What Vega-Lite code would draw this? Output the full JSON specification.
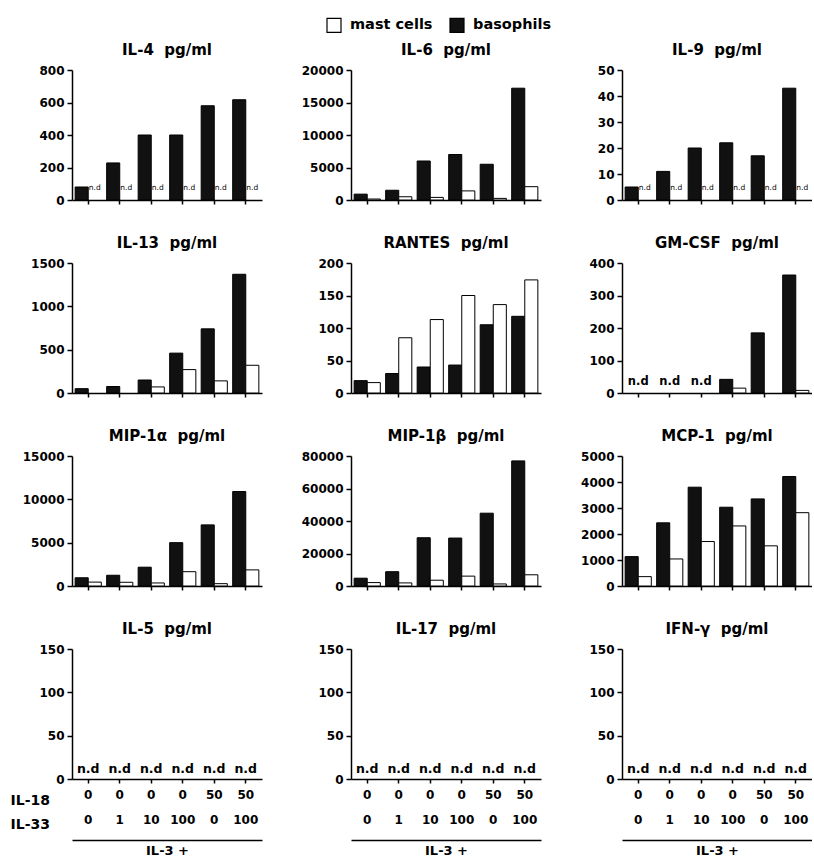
{
 "$schema": "https://vega.github.io/schema/vega-lite/v6.json",
 "padding": {"left": 10, "top": 17, "right": 0, "bottom": 0},
 "data": {"values": [
  {"c":"IL-4","g":"0|0","cell":"basophils","v":80},
  {"c":"IL-4","g":"0|1","cell":"basophils","v":228},
  {"c":"IL-4","g":"0|10","cell":"basophils","v":400},
  {"c":"IL-4","g":"0|100","cell":"basophils","v":400},
  {"c":"IL-4","g":"50|0","cell":"basophils","v":580},
  {"c":"IL-4","g":"50|100","cell":"basophils","v":617},
  {"c":"IL-4","g":"0|0","cell":"mast cells","nd":"m"},
  {"c":"IL-4","g":"0|1","cell":"mast cells","nd":"m"},
  {"c":"IL-4","g":"0|10","cell":"mast cells","nd":"m"},
  {"c":"IL-4","g":"0|100","cell":"mast cells","nd":"m"},
  {"c":"IL-4","g":"50|0","cell":"mast cells","nd":"m"},
  {"c":"IL-4","g":"50|100","cell":"mast cells","nd":"m"},
  {"c":"IL-6","g":"0|0","cell":"basophils","v":900},
  {"c":"IL-6","g":"0|1","cell":"basophils","v":1500},
  {"c":"IL-6","g":"0|10","cell":"basophils","v":6000},
  {"c":"IL-6","g":"0|100","cell":"basophils","v":7000},
  {"c":"IL-6","g":"50|0","cell":"basophils","v":5500},
  {"c":"IL-6","g":"50|100","cell":"basophils","v":17200},
  {"c":"IL-6","g":"0|0","cell":"mast cells","v":150},
  {"c":"IL-6","g":"0|1","cell":"mast cells","v":500},
  {"c":"IL-6","g":"0|10","cell":"mast cells","v":400},
  {"c":"IL-6","g":"0|100","cell":"mast cells","v":1400},
  {"c":"IL-6","g":"50|0","cell":"mast cells","v":250},
  {"c":"IL-6","g":"50|100","cell":"mast cells","v":2050},
  {"c":"IL-9","g":"0|0","cell":"basophils","v":5},
  {"c":"IL-9","g":"0|1","cell":"basophils","v":11},
  {"c":"IL-9","g":"0|10","cell":"basophils","v":20},
  {"c":"IL-9","g":"0|100","cell":"basophils","v":22},
  {"c":"IL-9","g":"50|0","cell":"basophils","v":17},
  {"c":"IL-9","g":"50|100","cell":"basophils","v":43},
  {"c":"IL-9","g":"0|0","cell":"mast cells","nd":"m"},
  {"c":"IL-9","g":"0|1","cell":"mast cells","nd":"m"},
  {"c":"IL-9","g":"0|10","cell":"mast cells","nd":"m"},
  {"c":"IL-9","g":"0|100","cell":"mast cells","nd":"m"},
  {"c":"IL-9","g":"50|0","cell":"mast cells","nd":"m"},
  {"c":"IL-9","g":"50|100","cell":"mast cells","nd":"m"},
  {"c":"IL-13","g":"0|0","cell":"basophils","v":50},
  {"c":"IL-13","g":"0|1","cell":"basophils","v":75},
  {"c":"IL-13","g":"0|10","cell":"basophils","v":150},
  {"c":"IL-13","g":"0|100","cell":"basophils","v":460},
  {"c":"IL-13","g":"50|0","cell":"basophils","v":740},
  {"c":"IL-13","g":"50|100","cell":"basophils","v":1370},
  {"c":"IL-13","g":"0|10","cell":"mast cells","v":70},
  {"c":"IL-13","g":"0|100","cell":"mast cells","v":270},
  {"c":"IL-13","g":"50|0","cell":"mast cells","v":140},
  {"c":"IL-13","g":"50|100","cell":"mast cells","v":320},
  {"c":"RANTES","g":"0|0","cell":"basophils","v":19},
  {"c":"RANTES","g":"0|1","cell":"basophils","v":30},
  {"c":"RANTES","g":"0|10","cell":"basophils","v":40},
  {"c":"RANTES","g":"0|100","cell":"basophils","v":43},
  {"c":"RANTES","g":"50|0","cell":"basophils","v":105},
  {"c":"RANTES","g":"50|100","cell":"basophils","v":118},
  {"c":"RANTES","g":"0|0","cell":"mast cells","v":16},
  {"c":"RANTES","g":"0|1","cell":"mast cells","v":85},
  {"c":"RANTES","g":"0|10","cell":"mast cells","v":113},
  {"c":"RANTES","g":"0|100","cell":"mast cells","v":150},
  {"c":"RANTES","g":"50|0","cell":"mast cells","v":136},
  {"c":"RANTES","g":"50|100","cell":"mast cells","v":174},
  {"c":"GM-CSF","g":"0|0","nd":"c"},
  {"c":"GM-CSF","g":"0|1","nd":"c"},
  {"c":"GM-CSF","g":"0|10","nd":"c"},
  {"c":"GM-CSF","g":"0|100","cell":"basophils","v":42},
  {"c":"GM-CSF","g":"50|0","cell":"basophils","v":185},
  {"c":"GM-CSF","g":"50|100","cell":"basophils","v":363},
  {"c":"GM-CSF","g":"0|100","cell":"mast cells","v":15},
  {"c":"GM-CSF","g":"50|100","cell":"mast cells","v":8},
  {"c":"MIP-1α","g":"0|0","cell":"basophils","v":950},
  {"c":"MIP-1α","g":"0|1","cell":"basophils","v":1240},
  {"c":"MIP-1α","g":"0|10","cell":"basophils","v":2170},
  {"c":"MIP-1α","g":"0|100","cell":"basophils","v":5000},
  {"c":"MIP-1α","g":"50|0","cell":"basophils","v":7050},
  {"c":"MIP-1α","g":"50|100","cell":"basophils","v":10900},
  {"c":"MIP-1α","g":"0|0","cell":"mast cells","v":450},
  {"c":"MIP-1α","g":"0|1","cell":"mast cells","v":430},
  {"c":"MIP-1α","g":"0|10","cell":"mast cells","v":350},
  {"c":"MIP-1α","g":"0|100","cell":"mast cells","v":1650},
  {"c":"MIP-1α","g":"50|0","cell":"mast cells","v":270},
  {"c":"MIP-1α","g":"50|100","cell":"mast cells","v":1860},
  {"c":"MIP-1β","g":"0|0","cell":"basophils","v":4800},
  {"c":"MIP-1β","g":"0|1","cell":"basophils","v":8800},
  {"c":"MIP-1β","g":"0|10","cell":"basophils","v":29700},
  {"c":"MIP-1β","g":"0|100","cell":"basophils","v":29500},
  {"c":"MIP-1β","g":"50|0","cell":"basophils","v":44800},
  {"c":"MIP-1β","g":"50|100","cell":"basophils","v":77000},
  {"c":"MIP-1β","g":"0|0","cell":"mast cells","v":2100},
  {"c":"MIP-1β","g":"0|1","cell":"mast cells","v":1900},
  {"c":"MIP-1β","g":"0|10","cell":"mast cells","v":3560},
  {"c":"MIP-1β","g":"0|100","cell":"mast cells","v":6070},
  {"c":"MIP-1β","g":"50|0","cell":"mast cells","v":1260},
  {"c":"MIP-1β","g":"50|100","cell":"mast cells","v":6900},
  {"c":"MCP-1","g":"0|0","cell":"basophils","v":1130},
  {"c":"MCP-1","g":"0|1","cell":"basophils","v":2430},
  {"c":"MCP-1","g":"0|10","cell":"basophils","v":3800},
  {"c":"MCP-1","g":"0|100","cell":"basophils","v":3030},
  {"c":"MCP-1","g":"50|0","cell":"basophils","v":3350},
  {"c":"MCP-1","g":"50|100","cell":"basophils","v":4210},
  {"c":"MCP-1","g":"0|0","cell":"mast cells","v":360},
  {"c":"MCP-1","g":"0|1","cell":"mast cells","v":1040},
  {"c":"MCP-1","g":"0|10","cell":"mast cells","v":1710},
  {"c":"MCP-1","g":"0|100","cell":"mast cells","v":2310},
  {"c":"MCP-1","g":"50|0","cell":"mast cells","v":1545},
  {"c":"MCP-1","g":"50|100","cell":"mast cells","v":2820},
  {"c":"IL-5","g":"0|0","nd":"c"},
  {"c":"IL-5","g":"0|1","nd":"c"},
  {"c":"IL-5","g":"0|10","nd":"c"},
  {"c":"IL-5","g":"0|100","nd":"c"},
  {"c":"IL-5","g":"50|0","nd":"c"},
  {"c":"IL-5","g":"50|100","nd":"c"},
  {"c":"IL-17","g":"0|0","nd":"c"},
  {"c":"IL-17","g":"0|1","nd":"c"},
  {"c":"IL-17","g":"0|10","nd":"c"},
  {"c":"IL-17","g":"0|100","nd":"c"},
  {"c":"IL-17","g":"50|0","nd":"c"},
  {"c":"IL-17","g":"50|100","nd":"c"},
  {"c":"IFN-γ","g":"0|0","nd":"c"},
  {"c":"IFN-γ","g":"0|1","nd":"c"},
  {"c":"IFN-γ","g":"0|10","nd":"c"},
  {"c":"IFN-γ","g":"0|100","nd":"c"},
  {"c":"IFN-γ","g":"50|0","nd":"c"},
  {"c":"IFN-γ","g":"50|100","nd":"c"}
 ]},
 "columns": 3,
 "spacing": {"row": 30, "column": 39},
 "resolve": {"scale": {"x": "independent", "y": "independent", "xOffset": "independent", "color": "shared"}, "legend": {"color": "shared"}},
 "concat": [
  {"title": "IL-4\u00a0 pg/ml", "width": 190, "height": 130,
   "transform": [{"filter": "datum.c === 'IL-4'"}],
   "encoding": {"x": {"field":"g","type":"nominal","sort":null,"scale":{"domain":["0|0","0|1","0|10","0|100","50|0","50|100"],"paddingInner":0.17,"paddingOuter":0.1},"axis":{"labels":false,"title":null}}},
   "layer": [
    {"transform": [{"filter": "isValid(datum.v)"}], "mark": {"type":"bar","stroke":"black","strokeWidth":1},
     "encoding": {"xOffset": {"field":"cell","type":"nominal","scale":{"domain":["basophils","mast cells"],"paddingInner":0,"paddingOuter":0}},
      "y": {"field":"v","type":"quantitative","scale":{"domain":[0,800],"nice":false},"axis":{"values":[0,200,400,600,800],"title":null}},
      "color": {"field":"cell","type":"nominal","scale":{"domain":["mast cells","basophils"],"range":["#ffffff","#111111"]},"legend":{"title":null}}}},
    {"transform": [{"filter": "datum.nd === 'm'"}], "mark": {"type":"text","fontSize":7.5,"dy":-10,"baseline":"alphabetic"},
     "encoding": {"xOffset": {"field":"cell","type":"nominal","scale":{"domain":["basophils","mast cells"],"paddingInner":0,"paddingOuter":0}},
      "y": {"datum":0,"type":"quantitative","scale":{"domain":[0,800],"nice":false},"axis":{"values":[0,200,400,600,800],"title":null}}, "text": {"value":"n.d"}}}
   ]},
  {"title": "IL-6\u00a0 pg/ml", "width": 190, "height": 130,
   "transform": [{"filter": "datum.c === 'IL-6'"}],
   "encoding": {"x": {"field":"g","type":"nominal","sort":null,"scale":{"domain":["0|0","0|1","0|10","0|100","50|0","50|100"],"paddingInner":0.17,"paddingOuter":0.1},"axis":{"labels":false,"title":null}}},
   "layer": [
    {"transform": [{"filter": "isValid(datum.v)"}], "mark": {"type":"bar","stroke":"black","strokeWidth":1},
     "encoding": {"xOffset": {"field":"cell","type":"nominal","scale":{"domain":["basophils","mast cells"],"paddingInner":0,"paddingOuter":0}},
      "y": {"field":"v","type":"quantitative","scale":{"domain":[0,20000],"nice":false},"axis":{"values":[0,5000,10000,15000,20000],"title":null}},
      "color": {"field":"cell","type":"nominal","scale":{"domain":["mast cells","basophils"],"range":["#ffffff","#111111"]},"legend":{"title":null}}}}
   ]},
  {"title": "IL-9\u00a0 pg/ml", "width": 190, "height": 130,
   "transform": [{"filter": "datum.c === 'IL-9'"}],
   "encoding": {"x": {"field":"g","type":"nominal","sort":null,"scale":{"domain":["0|0","0|1","0|10","0|100","50|0","50|100"],"paddingInner":0.17,"paddingOuter":0.1},"axis":{"labels":false,"title":null}}},
   "layer": [
    {"transform": [{"filter": "isValid(datum.v)"}], "mark": {"type":"bar","stroke":"black","strokeWidth":1},
     "encoding": {"xOffset": {"field":"cell","type":"nominal","scale":{"domain":["basophils","mast cells"],"paddingInner":0,"paddingOuter":0}},
      "y": {"field":"v","type":"quantitative","scale":{"domain":[0,50],"nice":false},"axis":{"values":[0,10,20,30,40,50],"title":null}},
      "color": {"field":"cell","type":"nominal","scale":{"domain":["mast cells","basophils"],"range":["#ffffff","#111111"]},"legend":{"title":null}}}},
    {"transform": [{"filter": "datum.nd === 'm'"}], "mark": {"type":"text","fontSize":7.5,"dy":-10,"baseline":"alphabetic"},
     "encoding": {"xOffset": {"field":"cell","type":"nominal","scale":{"domain":["basophils","mast cells"],"paddingInner":0,"paddingOuter":0}},
      "y": {"datum":0,"type":"quantitative","scale":{"domain":[0,50],"nice":false},"axis":{"values":[0,10,20,30,40,50],"title":null}}, "text": {"value":"n.d"}}}
   ]},
  {"title": "IL-13\u00a0 pg/ml", "width": 190, "height": 130,
   "transform": [{"filter": "datum.c === 'IL-13'"}],
   "encoding": {"x": {"field":"g","type":"nominal","sort":null,"scale":{"domain":["0|0","0|1","0|10","0|100","50|0","50|100"],"paddingInner":0.17,"paddingOuter":0.1},"axis":{"labels":false,"title":null}}},
   "layer": [
    {"transform": [{"filter": "isValid(datum.v)"}], "mark": {"type":"bar","stroke":"black","strokeWidth":1},
     "encoding": {"xOffset": {"field":"cell","type":"nominal","scale":{"domain":["basophils","mast cells"],"paddingInner":0,"paddingOuter":0}},
      "y": {"field":"v","type":"quantitative","scale":{"domain":[0,1500],"nice":false},"axis":{"values":[0,500,1000,1500],"title":null}},
      "color": {"field":"cell","type":"nominal","scale":{"domain":["mast cells","basophils"],"range":["#ffffff","#111111"]},"legend":{"title":null}}}}
   ]},
  {"title": "RANTES\u00a0 pg/ml", "width": 190, "height": 130,
   "transform": [{"filter": "datum.c === 'RANTES'"}],
   "encoding": {"x": {"field":"g","type":"nominal","sort":null,"scale":{"domain":["0|0","0|1","0|10","0|100","50|0","50|100"],"paddingInner":0.17,"paddingOuter":0.1},"axis":{"labels":false,"title":null}}},
   "layer": [
    {"transform": [{"filter": "isValid(datum.v)"}], "mark": {"type":"bar","stroke":"black","strokeWidth":1},
     "encoding": {"xOffset": {"field":"cell","type":"nominal","scale":{"domain":["basophils","mast cells"],"paddingInner":0,"paddingOuter":0}},
      "y": {"field":"v","type":"quantitative","scale":{"domain":[0,200],"nice":false},"axis":{"values":[0,50,100,150,200],"title":null}},
      "color": {"field":"cell","type":"nominal","scale":{"domain":["mast cells","basophils"],"range":["#ffffff","#111111"]},"legend":{"title":null}}}}
   ]},
  {"title": "GM-CSF\u00a0 pg/ml", "width": 190, "height": 130,
   "transform": [{"filter": "datum.c === 'GM-CSF'"}],
   "encoding": {"x": {"field":"g","type":"nominal","sort":null,"scale":{"domain":["0|0","0|1","0|10","0|100","50|0","50|100"],"paddingInner":0.17,"paddingOuter":0.1},"axis":{"labels":false,"title":null}}},
   "layer": [
    {"transform": [{"filter": "isValid(datum.v)"}], "mark": {"type":"bar","stroke":"black","strokeWidth":1},
     "encoding": {"xOffset": {"field":"cell","type":"nominal","scale":{"domain":["basophils","mast cells"],"paddingInner":0,"paddingOuter":0}},
      "y": {"field":"v","type":"quantitative","scale":{"domain":[0,400],"nice":false},"axis":{"values":[0,100,200,300,400],"title":null}},
      "color": {"field":"cell","type":"nominal","scale":{"domain":["mast cells","basophils"],"range":["#ffffff","#111111"]},"legend":{"title":null}}}},
    {"transform": [{"filter": "datum.nd === 'c'"}], "mark": {"type":"text","fontSize":11.5,"fontWeight":"bold","dy":-8,"baseline":"alphabetic"},
     "encoding": {"y": {"datum":0,"type":"quantitative","scale":{"domain":[0,400],"nice":false},"axis":{"values":[0,100,200,300,400],"title":null}}, "text": {"value":"n.d"}}}
   ]},
  {"title": "MIP-1α\u00a0 pg/ml", "width": 190, "height": 130,
   "transform": [{"filter": "datum.c === 'MIP-1α'"}],
   "encoding": {"x": {"field":"g","type":"nominal","sort":null,"scale":{"domain":["0|0","0|1","0|10","0|100","50|0","50|100"],"paddingInner":0.17,"paddingOuter":0.1},"axis":{"labels":false,"title":null}}},
   "layer": [
    {"transform": [{"filter": "isValid(datum.v)"}], "mark": {"type":"bar","stroke":"black","strokeWidth":1},
     "encoding": {"xOffset": {"field":"cell","type":"nominal","scale":{"domain":["basophils","mast cells"],"paddingInner":0,"paddingOuter":0}},
      "y": {"field":"v","type":"quantitative","scale":{"domain":[0,15000],"nice":false},"axis":{"values":[0,5000,10000,15000],"title":null}},
      "color": {"field":"cell","type":"nominal","scale":{"domain":["mast cells","basophils"],"range":["#ffffff","#111111"]},"legend":{"title":null}}}}
   ]},
  {"title": "MIP-1β\u00a0 pg/ml", "width": 190, "height": 130,
   "transform": [{"filter": "datum.c === 'MIP-1β'"}],
   "encoding": {"x": {"field":"g","type":"nominal","sort":null,"scale":{"domain":["0|0","0|1","0|10","0|100","50|0","50|100"],"paddingInner":0.17,"paddingOuter":0.1},"axis":{"labels":false,"title":null}}},
   "layer": [
    {"transform": [{"filter": "isValid(datum.v)"}], "mark": {"type":"bar","stroke":"black","strokeWidth":1},
     "encoding": {"xOffset": {"field":"cell","type":"nominal","scale":{"domain":["basophils","mast cells"],"paddingInner":0,"paddingOuter":0}},
      "y": {"field":"v","type":"quantitative","scale":{"domain":[0,80000],"nice":false},"axis":{"values":[0,20000,40000,60000,80000],"title":null}},
      "color": {"field":"cell","type":"nominal","scale":{"domain":["mast cells","basophils"],"range":["#ffffff","#111111"]},"legend":{"title":null}}}}
   ]},
  {"title": "MCP-1\u00a0 pg/ml", "width": 190, "height": 130,
   "transform": [{"filter": "datum.c === 'MCP-1'"}],
   "encoding": {"x": {"field":"g","type":"nominal","sort":null,"scale":{"domain":["0|0","0|1","0|10","0|100","50|0","50|100"],"paddingInner":0.17,"paddingOuter":0.1},"axis":{"labels":false,"title":null}}},
   "layer": [
    {"transform": [{"filter": "isValid(datum.v)"}], "mark": {"type":"bar","stroke":"black","strokeWidth":1},
     "encoding": {"xOffset": {"field":"cell","type":"nominal","scale":{"domain":["basophils","mast cells"],"paddingInner":0,"paddingOuter":0}},
      "y": {"field":"v","type":"quantitative","scale":{"domain":[0,5000],"nice":false},"axis":{"values":[0,1000,2000,3000,4000,5000],"title":null}},
      "color": {"field":"cell","type":"nominal","scale":{"domain":["mast cells","basophils"],"range":["#ffffff","#111111"]},"legend":{"title":null}}}}
   ]},
  {"title": "IL-5\u00a0 pg/ml", "width": 190, "height": 130,
   "transform": [{"filter": "datum.c === 'IL-5'"}],
   "layer": [
    {"mark": {"type":"text","fontSize":12.5,"fontWeight":"bold","dy":-6,"baseline":"alphabetic"},
     "encoding": {"x": {"field":"g","type":"nominal","sort":null,"scale":{"domain":["0|0","0|1","0|10","0|100","50|0","50|100"],"paddingInner":0.17,"paddingOuter":0.1},
        "axis":{"labelExpr":"split(datum.label, '|')","labelLineHeight":25,"labelPadding":6,"title":["IL-18","IL-33"],"titleX":-62,"titleY":25,"titleAlign":"left","titleBaseline":"alphabetic","titleAnchor":null,"titleFontSize":14,"titleLineHeight":24}},
      "y": {"datum":0,"type":"quantitative","scale":{"domain":[0,150],"nice":false},"axis":{"values":[0,50,100,150],"title":null}}, "text": {"value":"n.d"}}},
    {"mark": {"type":"rule","opacity":0},
     "encoding": {"x": {"field":"g","type":"nominal","sort":null,"scale":{"domain":["0|0","0|1","0|10","0|100","50|0","50|100"],"paddingInner":0.17,"paddingOuter":0.1},
        "axis":{"orient":"bottom","offset":61,"labels":false,"ticks":false,"title":"IL-3 +","titlePadding":4,"titleFontSize":13}}}}
   ],
   "resolve": {"axis": {"x": "independent"}}},
  {"title": "IL-17\u00a0 pg/ml", "width": 190, "height": 130,
   "transform": [{"filter": "datum.c === 'IL-17'"}],
   "layer": [
    {"mark": {"type":"text","fontSize":12.5,"fontWeight":"bold","dy":-6,"baseline":"alphabetic"},
     "encoding": {"x": {"field":"g","type":"nominal","sort":null,"scale":{"domain":["0|0","0|1","0|10","0|100","50|0","50|100"],"paddingInner":0.17,"paddingOuter":0.1},
        "axis":{"labelExpr":"split(datum.label, '|')","labelLineHeight":25,"labelPadding":6,"title":null}},
      "y": {"datum":0,"type":"quantitative","scale":{"domain":[0,150],"nice":false},"axis":{"values":[0,50,100,150],"title":null}}, "text": {"value":"n.d"}}},
    {"mark": {"type":"rule","opacity":0},
     "encoding": {"x": {"field":"g","type":"nominal","sort":null,"scale":{"domain":["0|0","0|1","0|10","0|100","50|0","50|100"],"paddingInner":0.17,"paddingOuter":0.1},
        "axis":{"orient":"bottom","offset":61,"labels":false,"ticks":false,"title":"IL-3 +","titlePadding":4,"titleFontSize":13}}}}
   ],
   "resolve": {"axis": {"x": "independent"}}},
  {"title": "IFN-γ\u00a0 pg/ml", "width": 190, "height": 130,
   "transform": [{"filter": "datum.c === 'IFN-γ'"}],
   "layer": [
    {"mark": {"type":"text","fontSize":12.5,"fontWeight":"bold","dy":-6,"baseline":"alphabetic"},
     "encoding": {"x": {"field":"g","type":"nominal","sort":null,"scale":{"domain":["0|0","0|1","0|10","0|100","50|0","50|100"],"paddingInner":0.17,"paddingOuter":0.1},
        "axis":{"labelExpr":"split(datum.label, '|')","labelLineHeight":25,"labelPadding":6,"title":null}},
      "y": {"datum":0,"type":"quantitative","scale":{"domain":[0,150],"nice":false},"axis":{"values":[0,50,100,150],"title":null}}, "text": {"value":"n.d"}}},
    {"mark": {"type":"rule","opacity":0},
     "encoding": {"x": {"field":"g","type":"nominal","sort":null,"scale":{"domain":["0|0","0|1","0|10","0|100","50|0","50|100"],"paddingInner":0.17,"paddingOuter":0.1},
        "axis":{"orient":"bottom","offset":61,"labels":false,"ticks":false,"title":"IL-3 +","titlePadding":4,"titleFontSize":13}}}}
   ],
   "resolve": {"axis": {"x": "independent"}}}
 ],
 "config": {
  "font": "DejaVu Sans",
  "numberFormat": "d",
  "view": {"stroke": null},
  "axis": {"grid": false, "domainColor": "black", "domainWidth": 1.5, "tickColor": "black", "tickWidth": 1.5, "tickSize": 5,
   "labelFont": "DejaVu Sans", "labelFontSize": 12, "labelFontWeight": "bold", "labelColor": "black", "labelPadding": 3, "labelOverlap": false,
   "titleFont": "DejaVu Sans", "titleFontWeight": "bold", "titleColor": "black"},
  "axisY": {"format": "d"},
  "axisX": {"tickSize": 4, "labelAngle": 0},
  "title": {"font": "DejaVu Sans", "fontSize": 15, "fontWeight": "bold", "color": "black", "offset": 6, "anchor": "middle"},
  "text": {"font": "DejaVu Sans", "color": "black"},
  "legend": {"orient": "none", "legendX": 254, "legendY": -53, "direction": "horizontal", "padding": 0,
   "symbolType": "square", "symbolSize": 196, "symbolStrokeColor": "black", "symbolStrokeWidth": 1.2,
   "labelFont": "DejaVu Sans", "labelFontSize": 14.5, "labelFontWeight": "bold", "labelColor": "black", "columnPadding": 14, "labelOffset": 8}
 }
}
